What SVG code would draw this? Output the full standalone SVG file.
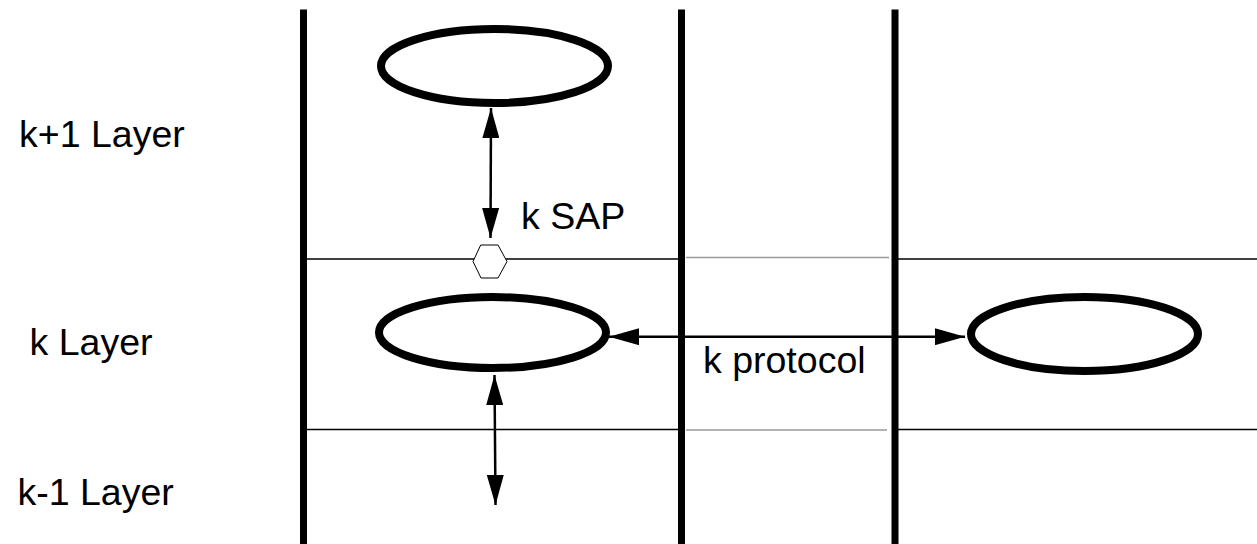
<svg xmlns="http://www.w3.org/2000/svg" width="1257" height="544" viewBox="0 0 1257 544">
<style>
.lbl{font-family:"Liberation Sans",Arial,sans-serif;font-size:37.5px;fill:#000}
.wall{stroke:#000;stroke-width:7;fill:none}
.hl{stroke:#000;stroke-width:1.5;fill:none}
.hg{stroke:#999;stroke-width:1.5;fill:none}
.ent{fill:#fff;stroke:#000;stroke-width:8}
.conn{stroke:#000;stroke-width:2.5;fill:none;marker-start:url(#ah);marker-end:url(#ah)}
</style>
<defs>
<marker id="ah" viewBox="0 0 30 17" refX="30" refY="8.5" markerWidth="30" markerHeight="17" markerUnits="userSpaceOnUse" orient="auto-start-reverse">
<path d="M0,0 L30,8.5 L0,17 Z" fill="#000"/>
</marker>
</defs>
<rect width="1257" height="544" fill="#fff"/>
<g id="grid">
<line class="hl" x1="303" y1="259" x2="681" y2="259"/>
<line class="hg" x1="686" y1="257.5" x2="889" y2="257.5"/>
<line class="hl" x1="895" y1="259" x2="1257" y2="259"/>
<line class="hl" x1="303" y1="429.5" x2="681" y2="429.5"/>
<line class="hg" x1="686" y1="430" x2="887" y2="430"/>
<line class="hl" x1="895" y1="429.5" x2="1257" y2="429.5"/>
<line class="wall" x1="303.5" y1="9.5" x2="303.5" y2="544"/>
<line class="wall" x1="681.5" y1="9.5" x2="681.5" y2="544"/>
<line class="wall" x1="895" y1="9.5" x2="895" y2="544"/>
</g>
<g id="labels">
<text class="lbl" x="19" y="147">k+1 Layer</text>
<text class="lbl" x="29.5" y="355">k Layer</text>
<text class="lbl" x="17.5" y="505">k-1 Layer</text>
</g>
<g id="entity-k1">
<ellipse class="ent" cx="494.5" cy="66" rx="113.5" ry="37"/>
</g>
<g id="entity-k-left">
<ellipse class="ent" cx="492.5" cy="332.5" rx="113.5" ry="35.5"/>
</g>
<g id="entity-k-right">
<ellipse class="ent" cx="1084.5" cy="334" rx="113.5" ry="37"/>
</g>
<g id="sap">
<polygon points="480.7,245 498,245 507,261.5 498,278 481,278 473,261.5" fill="#fff" stroke="#000" stroke-width="1"/>
<text class="lbl" x="521" y="229">k SAP</text>
</g>
<g id="connectors">
<line class="conn" x1="491" y1="108" x2="490.5" y2="238"/>
<line class="conn" x1="609" y1="336.7" x2="965" y2="336.7"/>
<line class="conn" x1="494.5" y1="375" x2="495.5" y2="505"/>
<text class="lbl" x="703" y="373">k protocol</text>
</g>
</svg>
